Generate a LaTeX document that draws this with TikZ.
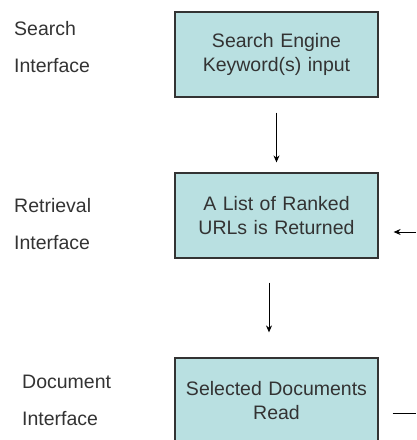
\documentclass[tikz,border=0pt]{standalone}
\usepackage{fontspec}
\setmainfont{Liberation Sans}
\usepackage{xcolor}
\usetikzlibrary{arrows.meta,positioning,calc}
\definecolor{boxcyan}{HTML}{B9E0E1}
\definecolor{boxline}{HTML}{333333}

\begin{document}
\begin{tikzpicture}[x=1pt,y=-1pt,>={Stealth[length=7pt,width=6pt]}]

\tikzset{stage/.style={
  rectangle,
  inner sep=0pt,
  text width=200pt,
  align=center,
  draw=boxline, fill=boxcyan,
  line width=1.2pt,
  minimum width=203pt,
  minimum height=85pt,
  font=\fontsize{19.5}{24}\selectfont,
  text=black!80
  }}
\tikzset{side/.style={
  anchor=west,
  align=left,
  inner sep=0pt,
  font=\fontsize{19.5}{37}\selectfont,
  text=black!80
  }}

\useasboundingbox (0,0) rectangle (416,440);
\clip (0,0) rectangle (416,440);

\node[stage] (engine) at (276.5,54.5) {Search Engine\\Keyword(s) input};
\node[stage] (ranked) at (276.5,215.5) {A List of Ranked\\URLs is Returned};
\node[stage] (docs) at (276.5,400.5) {Selected Documents\\Read};

\node[side] (searchif) at (14,47.5) {Search\\Interface};
\node[side] (retrif) at (14,224.5) {Retrieval\\Interface};
\node[side] (docif) at (22,400.5) {Document\\Interface};

%\coordinate (fb) at (416,232);
\coordinate (rin) at (416,232);
\coordinate (rout) at (416,413);

\path[draw,->,line width=1pt,shorten <=15pt,shorten >=10pt] (engine.south) -- (ranked.north);
\path[draw,->,line width=1pt,shorten <=24pt,shorten >=25pt] ($(ranked.south)+(-7.5,0)$) -- ($(docs.north)+(-7.5,0)$);
\path[draw,->,line width=1pt,shorten >=15pt] (rin) -- (ranked.east |- rin);
\path[draw,line width=1pt,shorten <=14pt] (docs.east |- rout) -- (rout);
\end{tikzpicture}
\end{document}
